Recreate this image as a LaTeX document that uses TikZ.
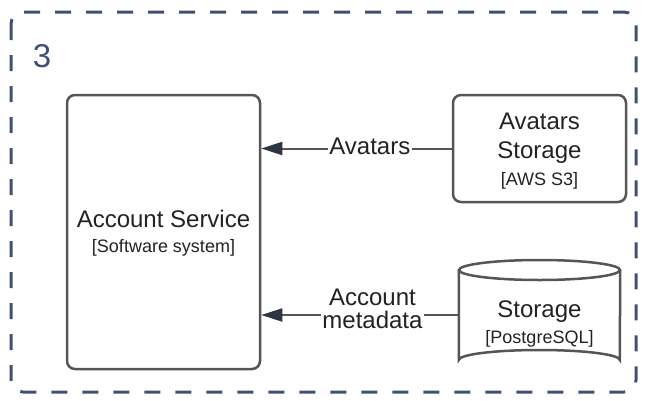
\documentclass[tikz,border=0pt]{standalone}
\usepackage{fontspec}
\setmainfont{Liberation Sans}
\usetikzlibrary{arrows.meta}
\definecolor{framecol}{HTML}{3F5173}
\definecolor{boxcol}{HTML}{555555}
\definecolor{tipcol}{HTML}{2B3642}
\definecolor{txtcol}{HTML}{222222}
\tikzset{
  sysbox/.style={draw=boxcol, line width=2.5pt, rounded corners=8pt, inner sep=0pt},
  bigtxt/.style={text=txtcol, anchor=base, inner sep=0pt, font=\fontsize{24}{28}\selectfont},
  smalltxt/.style={text=txtcol, anchor=base, inner sep=0pt, font=\fontsize{18}{22}\selectfont},
  link/.style={draw=boxcol, line width=2pt,
    -{Triangle[length=21pt,width=13pt,color=tipcol]}},
  linklabel/.style={fill=white, text=txtcol, anchor=base, inner xsep=1.5pt,
    inner ysep=2pt, font=\fontsize{24}{28}\selectfont},
}
\begin{document}
\begin{tikzpicture}[x=1pt, y=-1pt]
\useasboundingbox (0,0) rectangle (646,400);
% outer dashed boundary
\draw[framecol, line width=3pt, dash pattern=on 16pt off 15pt, rounded corners=12pt]
  (11,12) rectangle (636,392);
\node[text=framecol, inner sep=0pt, anchor=base, font=\fontsize{33}{36}\selectfont] (num) at (42,67) {3};

% account service
\node[sysbox, minimum width=193pt, minimum height=274pt] (acct) at (163.5,232) {};
\node[bigtxt] (acctname) at (163.5,227) {Account Service};
\node[smalltxt] (accttech) at (163.5,252) {[Software system]};

% avatars storage
\node[sysbox, minimum width=173pt, minimum height=107pt] (avs) at (539.5,148.5) {};
\node[bigtxt] (avsname1) at (539.5,129) {Avatars};
\node[bigtxt] (avsname2) at (539.5,158) {Storage};
\node[smalltxt] (avstech) at (539.5,185) {[AWS S3]};

% relational storage (cylinder): sides and lower rim, then the top ellipse
\node[inner sep=0pt, minimum width=161pt, minimum height=110pt] (db) at (539.5,315) {};
\draw[boxcol, line width=2.5pt]
  ([yshift=45pt]db.west) -- ([yshift=-45pt]db.west)
  arc[start angle=180, end angle=0, x radius=80.5pt, y radius=10pt]
  -- ([yshift=45pt]db.east);
\draw[boxcol, line width=2.5pt] ([yshift=45pt]db.center) ellipse[x radius=80.5pt, y radius=10pt];
\node[bigtxt] (dbname) at (539.5,317) {Storage};
\node[smalltxt] (dbtech) at (539.5,343) {[PostgreSQL]};

% connectors
\draw[link] (avs.west) -- node[linklabel, pos=0.43, yshift=-6pt] {Avatars} (acct.east |- avs.west);
\draw[link] (db.west) --
  node[linklabel, pos=0.437, yshift=10pt, fill=none] {Account}
  node[linklabel, pos=0.437, yshift=-13pt] {metadata}
  (acct.east |- db.west);
\end{tikzpicture}
\end{document}
